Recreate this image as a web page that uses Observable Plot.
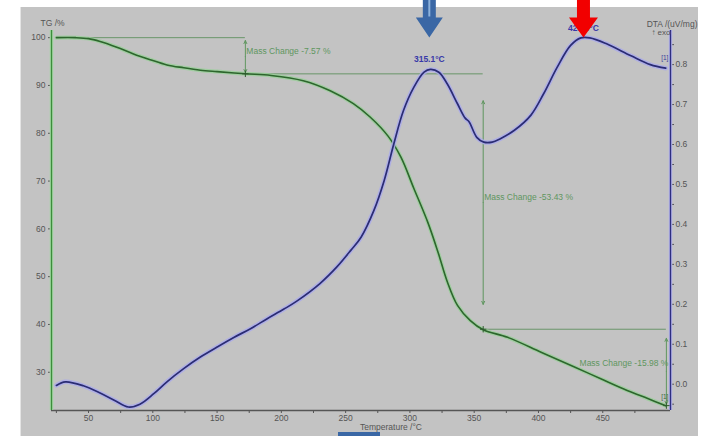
<!DOCTYPE html>
<html>
<head>
<meta charset="utf-8">
<script src="https://cdn.jsdelivr.net/npm/d3@7"></script>
<script src="https://cdn.jsdelivr.net/npm/@observablehq/plot@0.6"></script>
<style>
  html, body { margin: 0; padding: 0; background: #ffffff; }
  #wrap { position: relative; width: 704px; height: 436px; overflow: hidden; }
  #panel { position: absolute; left: 20px; top: 7px; width: 678px; height: 429px; background: #c3c3c3; border-left: 1px solid #e4e4e4; box-sizing: border-box; }
  #chart { position: absolute; left: 0; top: 0; }
  #base { position: absolute; left: 338px; top: 432px; width: 42px; height: 4px; background: #3a67a5; }
</style>
</head>
<body>
<div id="wrap">
  <div id="panel"></div>
  <div id="chart"></div>
  <div id="base"></div>
</div>
<script>
// ---- Data ----
// TG curve (mass %) vs temperature (°C)
const tgTemp = [25, 40, 50, 59, 72, 85, 98, 111, 124, 137, 150, 172, 192, 217, 238, 256, 269, 283, 293, 303, 314, 322, 329, 337, 347, 357, 376, 402, 428, 448, 469, 485, 499];
const tgMass = [100.0, 100.0, 99.8, 99.2, 98.0, 96.6, 95.4, 94.3, 93.7, 93.2, 92.9, 92.45, 92.1, 91.0, 88.9, 86.2, 83.4, 79.4, 75.0, 68.5, 61.3, 55.0, 49.0, 44.0, 40.8, 38.9, 37.3, 34.2, 31.1, 28.7, 26.2, 24.5, 23.0];

// DTA curve (uV/mg) vs temperature (°C)
const dtaTemp = [25, 32, 46, 59, 70, 81, 90, 101, 111, 124, 137, 150, 163, 176, 189, 202, 212, 230, 243, 254, 262, 272, 280, 287.5, 295, 303, 311, 316, 322.5, 329, 337, 343, 346, 352, 357.5, 364, 370, 381, 394, 404, 414.5, 425, 433, 440, 453, 472, 487, 499];
const dtaSignal = [-0.003, 0.006, -0.004, -0.022, -0.040, -0.057, -0.050, -0.023, 0.006, 0.039, 0.068, 0.093, 0.117, 0.139, 0.164, 0.188, 0.208, 0.252, 0.293, 0.335, 0.368, 0.435, 0.51, 0.602, 0.685, 0.743, 0.781, 0.788, 0.781, 0.752, 0.702, 0.666, 0.657, 0.618, 0.606, 0.606, 0.614, 0.635, 0.673, 0.727, 0.793, 0.848, 0.867, 0.867, 0.852, 0.822, 0.80, 0.791];

// Axis ticks
const xTicks = [25, 50, 75, 100, 125, 150, 175, 200, 225, 250, 275, 300, 325, 350, 375, 400, 425, 450, 475];
const tgTicks = [30, 40, 50, 60, 70, 80, 90, 100];
const dtaTicks = [0.0, 0.1, 0.2, 0.3, 0.4, 0.5, 0.6, 0.7, 0.8];
const dtaMinorTicks = [-0.05, 0.05, 0.15, 0.25, 0.35, 0.45, 0.55, 0.65, 0.75, 0.85];

// Peaks
const peakTemps = [315.1, 435];
const peakSignals = [0.788, 0.867];
const peakLabels = ["315.1°C", "428.3°C"];

// Mass change steps
const stepStart = [25, 172, 357];
const stepEnd = [172, 357, 499.5];
const stepLevels = [100, 92.43, 39.0, 23.02];
const arrowTops = [99.4, 86.8, 37.1];
const arrowBottoms = [92.7, 44.2, 23.3];
const massChangeLabels = ["Mass Change -7.57 %", "Mass Change -53.43 %", "Mass Change -15.98 %"];

// Texts
const tgTitle = "TG /%";
const dtaTitle = "DTA /(uV/mg)";
const exoLabel = "↑ exo";
const xTitle = "Temperature /°C";
const segmentTag = "[1]";

// ---- Derived tables ----
const dtaToY = d => 27.5 + 83.58 * d;   // map DTA units onto the TG scale
const yToDta = v => (v - 27.5) / 83.58;

const tg = tgTemp.map((t, i) => ({t, v: tgMass[i]}));
const dta = dtaTemp.map((t, i) => ({t, v: dtaToY(dtaSignal[i])}));
const steps = stepEnd.map((t, i) => ({
  i, t, x1: stepStart[i], level: stepLevels[i], next: stepLevels[i + 1],
  top: arrowTops[i], bottom: arrowBottoms[i], mid: (arrowTops[i] + arrowBottoms[i]) / 2,
  labelY: (stepLevels[i] + stepLevels[i + 1]) / 2, label: massChangeLabels[i]
}));
const peaks = peakTemps.map((t, i) => ({t, v: dtaToY(peakSignals[i]), label: peakLabels[i], i}));

const xDomain = [21.2, 502.7];
const yDomain = [22, 101.5];

// Block arrow symbol: origin at tip
const blockArrow = (shaftHalf, headHalf) => ({
  draw(ctx) {
    ctx.moveTo(-shaftHalf, -38);
    ctx.lineTo(shaftHalf, -38);
    ctx.lineTo(shaftHalf, -20);
    ctx.lineTo(headHalf, -20);
    ctx.lineTo(0, 0);
    ctx.lineTo(-headHalf, -20);
    ctx.lineTo(-shaftHalf, -20);
    ctx.closePath();
  }
});
const stripe = {
  draw(ctx) {
    ctx.moveTo(-1, -38); ctx.lineTo(1, -38); ctx.lineTo(1, -21); ctx.lineTo(-1, -21); ctx.closePath();
  }
};

const green = "#5f965f";
const font = "'Liberation Sans', Arial, sans-serif";

const chart = Plot.plot({
  width: 704,
  height: 436,
  marginLeft: 51,
  marginRight: 34,
  marginTop: 30,
  marginBottom: 26,
  x: {domain: xDomain},
  y: {domain: yDomain},
  style: {background: "transparent", color: "#555", fontFamily: font, fontSize: "8.5px", overflow: "visible"},
  marks: [
    // axes
    Plot.axisX(xTicks, {anchor: "bottom", tickSize: 3, tickPadding: 1, label: null, fontSize: 8.5,
      tickFormat: d => d % 50 === 0 ? String(d) : ""}),
    Plot.axisY(tgTicks, {anchor: "left", tickSize: 3, tickPadding: 3, label: null, fontSize: 8.5}),
    Plot.axisY(dtaTicks.map(dtaToY), {anchor: "right", tickSize: 3, tickPadding: 2, label: null, fontSize: 8.5,
      tickFormat: v => yToDta(v).toFixed(1)}),
    Plot.axisY(dtaMinorTicks.map(dtaToY), {anchor: "right", tickSize: 3, label: null, tickFormat: () => ""}),

    // axis lines
    Plot.ruleY([yDomain[0]], {stroke: "#555", strokeWidth: 1.6}),
    Plot.ruleX([xDomain[0]], {stroke: "#a2d6a2", strokeWidth: 3.5}),
    Plot.ruleX([xDomain[0]], {stroke: "#3c8c3c", strokeWidth: 1.3}),
    Plot.ruleX([xDomain[1]], {stroke: "#b6b6ec", strokeWidth: 3.5}),
    Plot.ruleX([xDomain[1]], {stroke: "#2e2e80", strokeWidth: 1.4}),

    // mass change annotations
    Plot.ruleY(steps, {y: "level", x1: "x1", x2: "t", stroke: "#6a966a", strokeWidth: 1}),
    Plot.arrow(steps, {x: "t", y1: "mid", y2: "top", stroke: green, strokeWidth: 1, headLength: 5, headAngle: 50}),
    Plot.arrow(steps, {x: "t", y1: "mid", y2: "bottom", stroke: green, strokeWidth: 1, headLength: 5, headAngle: 50}),
    Plot.text(steps.filter(s => s.i < 2), {x: "t", y: "labelY", text: "label", textAnchor: "start", dx: 1, dy: -4, fill: green, fontSize: 8.5}),
    Plot.text(steps.filter(s => s.i === 2), {x: "t", y: "labelY", text: "label", textAnchor: "end", dx: 2, dy: -4, fill: green, fontSize: 8.5}),

    // TG curve
    Plot.line(tg, {x: "t", y: "v", curve: "catmull-rom", stroke: "#98d098", strokeWidth: 4, strokeOpacity: 0.8}),
    Plot.line(tg, {x: "t", y: "v", curve: "catmull-rom", stroke: "#2d662d", strokeWidth: 1.6}),
    Plot.dot(steps, {x: "t", y: "next", symbol: "plus", r: 2.2, stroke: "#2f5a2f", strokeWidth: 1}),

    // DTA curve
    Plot.line(dta, {x: "t", y: "v", curve: "catmull-rom", stroke: "#aaaaea", strokeWidth: 4.5, strokeOpacity: 0.85}),
    Plot.line(dta, {x: "t", y: "v", curve: "catmull-rom", stroke: "#2a2c74", strokeWidth: 1.7}),

    // segment tags
    Plot.text([dta[dta.length - 1]], {x: "t", y: "v", text: () => segmentTag, dy: -10, dx: -1, fontSize: 6.5, fill: "#3b3b9b"}),
    Plot.text([tg[tg.length - 1]], {x: "t", y: "v", text: () => segmentTag, dy: -9, dx: -1, fontSize: 6.5, fill: "#3b6b3b"}),

    // peak labels
    Plot.text(peaks, {x: "t", y: "v", text: "label", dy: -10, fill: "#3838a8", fontWeight: "bold", fontSize: 8.5}),

    // marker arrows above the peaks
    Plot.dot(peaks.filter(p => p.i === 0), {x: "t", y: () => yDomain[1], dy: 7, r: 10, symbol: blockArrow(6.5, 13.5), fill: "#3a67a5", stroke: "none"}),
    Plot.dot(peaks.filter(p => p.i === 0), {x: "t", y: () => yDomain[1], dy: 7, r: 10, symbol: stripe, fill: "#8db2dc", stroke: "none"}),
    Plot.dot(peaks.filter(p => p.i === 1), {x: "t", y: () => yDomain[1], dy: 7, r: 10, symbol: blockArrow(6.5, 14.5), fill: "#f20000", stroke: "none"}),

    // titles
    Plot.text([tgTitle], {text: d => d, frameAnchor: "top-left", textAnchor: "start", dx: -11, dy: -11, fill: "#555", fontSize: 8.5}),
    Plot.text([dtaTitle], {text: d => d, frameAnchor: "top-right", textAnchor: "end", dx: 27, dy: -10, fill: "#555", fontSize: 8.5}),
    Plot.text([exoLabel], {text: d => d, frameAnchor: "top-right", textAnchor: "end", dx: 0, dy: -1, fill: "#555", fontSize: 8}),
    Plot.text([xTitle], {text: d => d, frameAnchor: "bottom", dx: 30, dy: 19.5, fill: "#555", fontSize: 8.5})
  ]
});
document.getElementById("chart").appendChild(chart);
</script>
</body>
</html>
